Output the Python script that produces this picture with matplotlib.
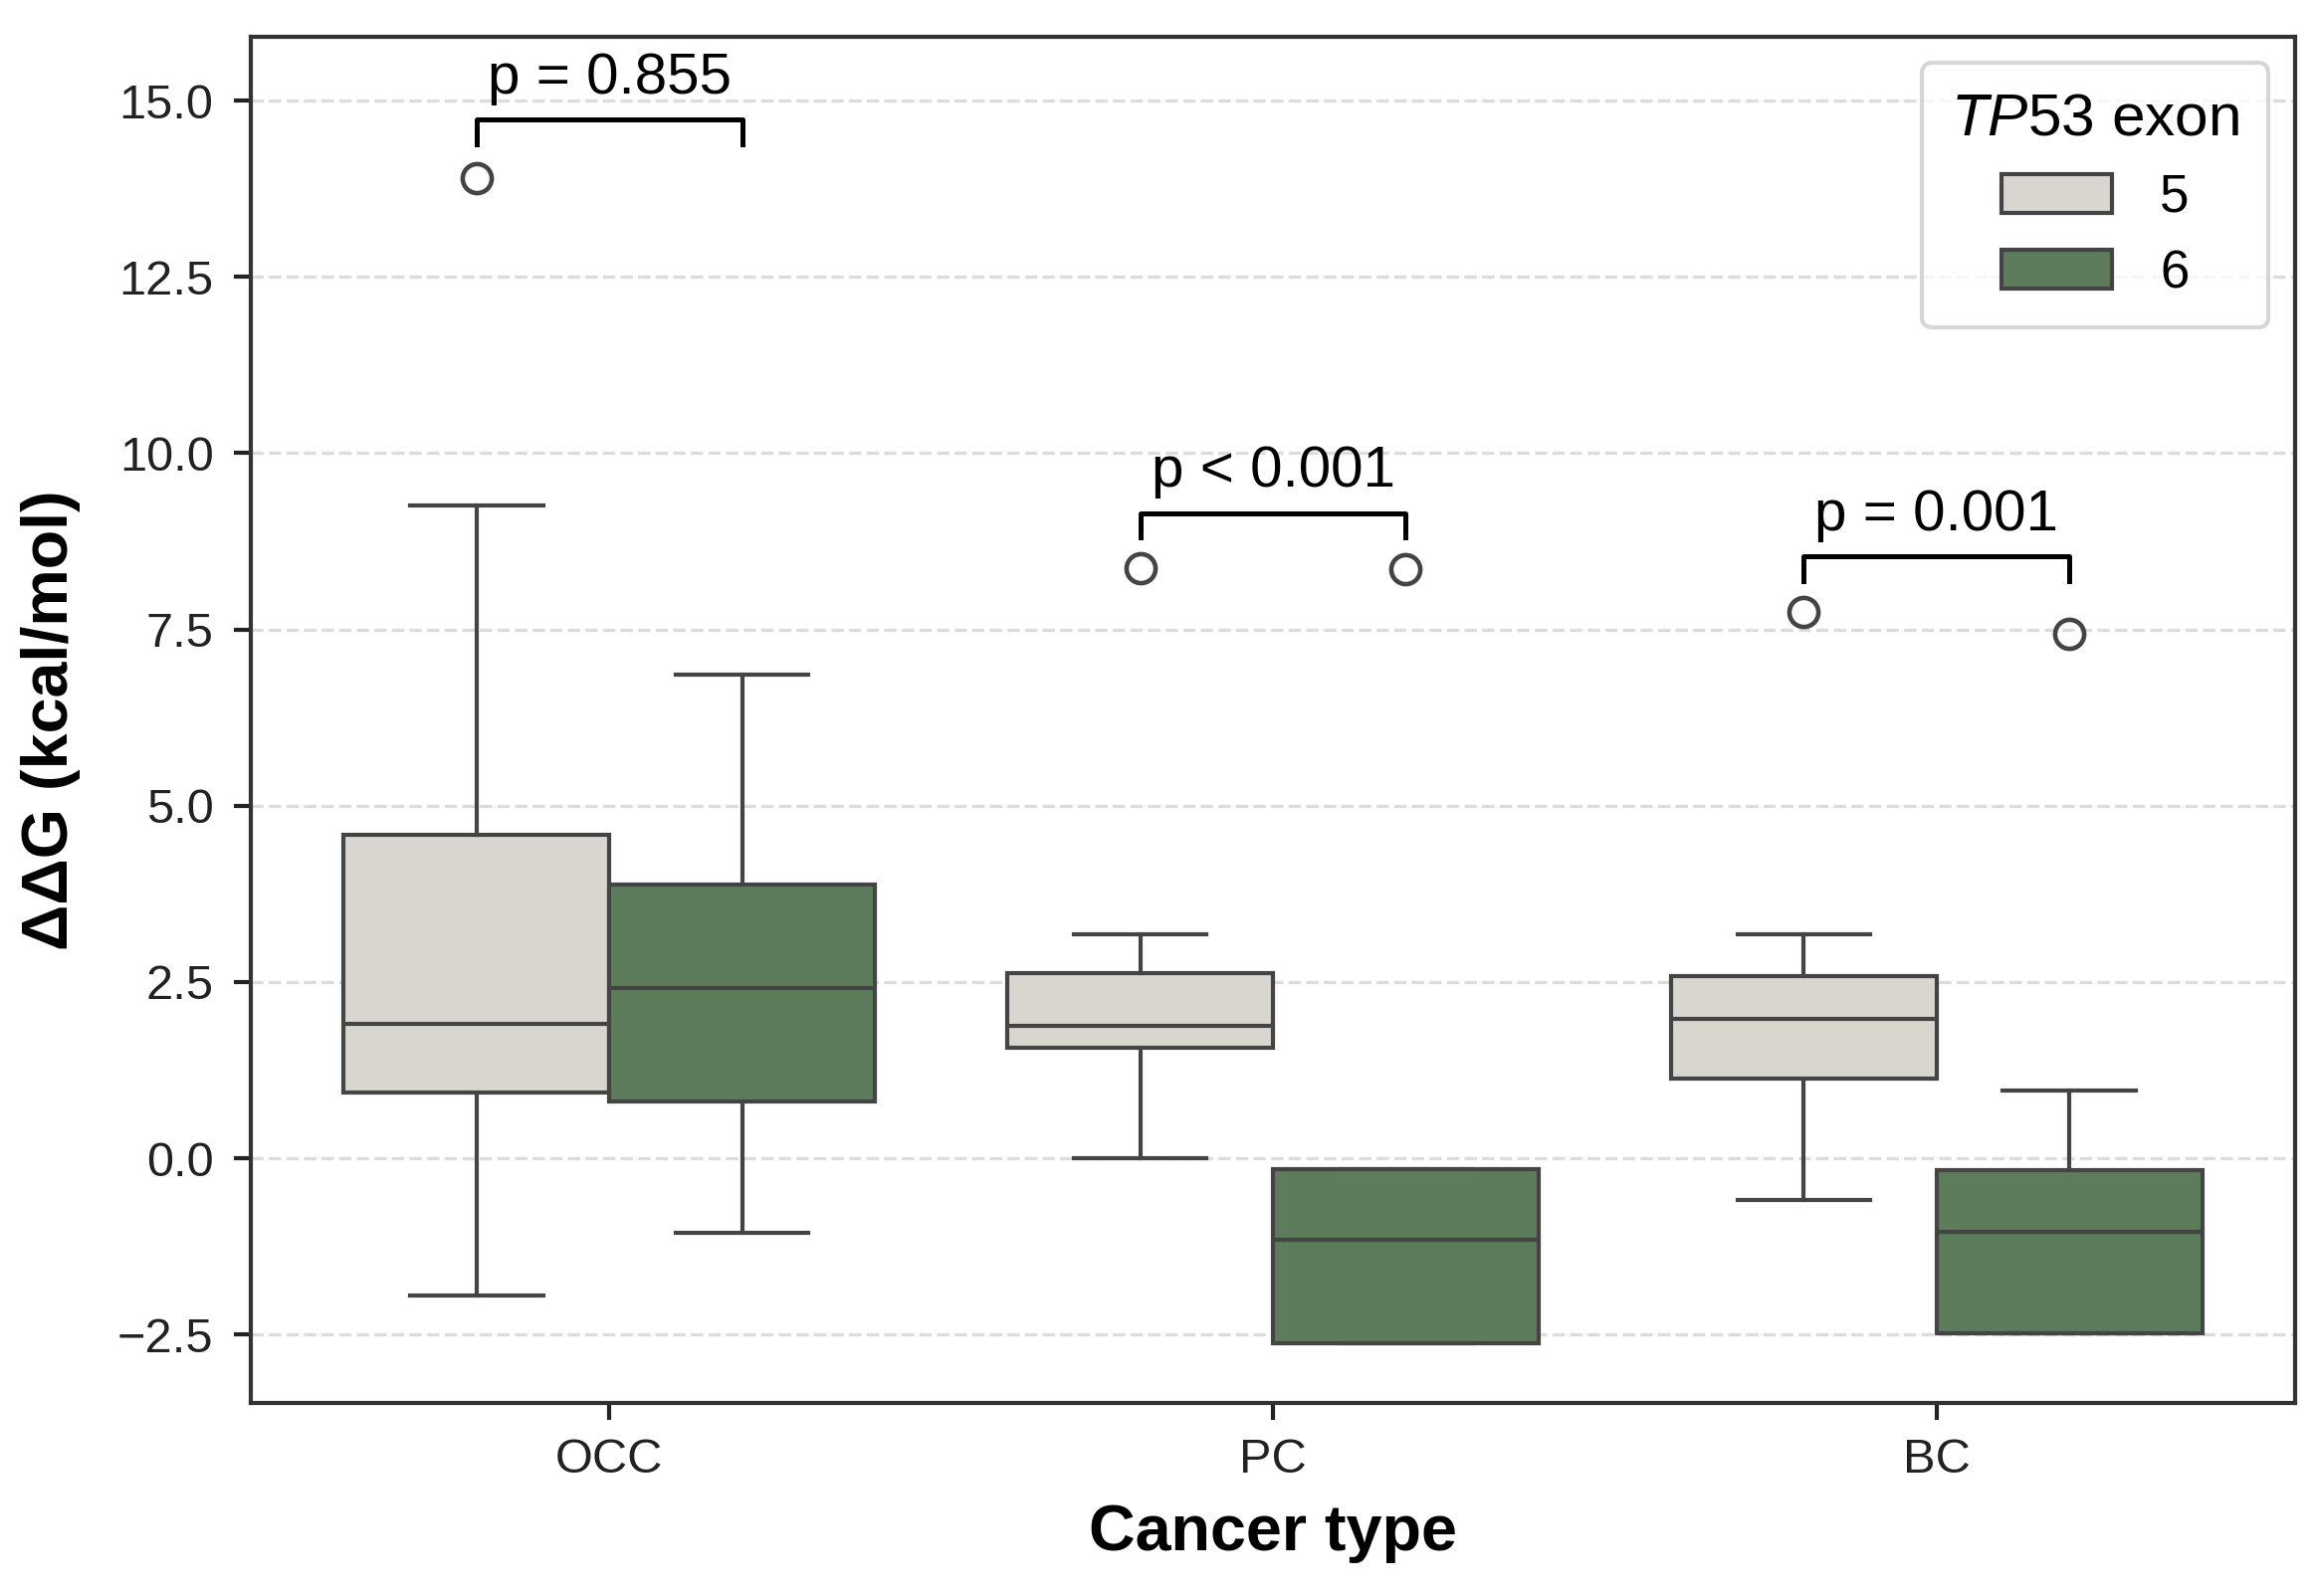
import matplotlib
matplotlib.use('Agg')

import matplotlib.pyplot as plt
from matplotlib.patches import Patch

plt.rcParams['font.family'] = ['Liberation Sans', 'DejaVu Sans']
plt.rcParams['mathtext.fontset'] = 'custom'
plt.rcParams['mathtext.rm'] = 'Liberation Sans'
plt.rcParams['mathtext.it'] = 'Liberation Sans:italic'

# 1) box statistics (kcal/mol)
cancer_types = ['OCC', 'PC', 'BC']
exons = ['5', '6']

ex5_whislo = [-1.95, 0.00, -0.59]
ex5_q1 = [0.93, 1.56, 1.13]
ex5_med = [1.91, 1.88, 1.97]
ex5_q3 = [4.58, 2.63, 2.58]
ex5_whishi = [9.26, 3.17, 3.17]
ex5_fliers = [[13.90], [8.37], [7.75]]

ex6_whislo = [-1.06, -2.63, -2.49]
ex6_q1 = [0.80, -2.63, -2.49]
ex6_med = [2.42, -1.16, -1.05]
ex6_q3 = [3.88, -0.16, -0.17]
ex6_whishi = [6.86, -0.16, 0.96]
ex6_fliers = [[], [8.36], [7.44]]

# p-value brackets
p_labels = ['p = 0.855', 'p < 0.001', 'p = 0.001']
p_bracket_y = [14.73, 9.15, 8.54]

colors = ['#d8d6cf', '#5c7c5b']
edge = '#444444'


def make_stats(whislo, q1, med, q3, whishi, fliers):
    return [dict(whislo=a, q1=b, med=c, q3=d, whishi=e, fliers=f)
            for a, b, c, d, e, f in zip(whislo, q1, med, q3, whishi, fliers)]


stats5 = make_stats(ex5_whislo, ex5_q1, ex5_med, ex5_q3, ex5_whishi, ex5_fliers)
stats6 = make_stats(ex6_whislo, ex6_q1, ex6_med, ex6_q3, ex6_whishi, ex6_fliers)

# 2) figure
fig = plt.figure(figsize=(7.76, 5.3467), dpi=300)
ax = fig.add_axes([0.1083, 0.121, 0.8822, 0.8562])

lw = 1.0
w = 0.4
for k, (st, col) in enumerate(zip([stats5, stats6], colors)):
    pos = [i - 0.2 + k * w for i in range(len(cancer_types))]
    ax.bxp(st, positions=pos, widths=w, capwidths=w / 2, patch_artist=True,
           boxprops=dict(facecolor=col, edgecolor=edge, linewidth=lw),
           medianprops=dict(color=edge, linewidth=lw),
           whiskerprops=dict(color=edge, linewidth=lw),
           capprops=dict(color=edge, linewidth=lw),
           flierprops=dict(marker='o', markersize=7, markerfacecolor='none',
                           markeredgecolor=edge, markeredgewidth=1.1),
           manage_ticks=False, zorder=3)

# brackets
drop = 0.35
for i, (lab, y) in enumerate(zip(p_labels, p_bracket_y)):
    x1, x2 = i - 0.2, i + 0.2
    ax.plot([x1, x1, x2, x2], [y - drop, y, y, y - drop], color='black',
            linewidth=1.2, zorder=4)
    ax.text(i, y + 0.37, lab, ha='center', va='baseline', fontsize=14)

ax.set_xlim(-0.54, 2.54)
ax.set_ylim(-3.47, 15.91)
ax.set_xticks(range(len(cancer_types)))
ax.set_xticklabels(cancer_types)
ax.set_yticks([-2.5, 0, 2.5, 5, 7.5, 10, 12.5, 15])
ax.set_yticklabels(['\u22122.5', '0.0', '2.5', '5.0', '7.5', '10.0', '12.5', '15.0'])
ax.tick_params(axis='both', labelsize=11.7, length=4, width=1.0,
               colors='#222222', pad=5)
ax.tick_params(axis='x', pad=4.5)

ax.yaxis.grid(True, linestyle='--', color='#dcdcdc', linewidth=0.8, zorder=0)
ax.set_axisbelow(True)
for s in ax.spines.values():
    s.set_linewidth(1.0)
    s.set_color('#333333')

ax.set_xlabel('Cancer type', fontsize=15.5, fontweight='bold', labelpad=5)
ax.set_ylabel('\u0394\u0394G (kcal/mol)', fontsize=15.5, fontweight='bold', labelpad=9)

handles = [Patch(facecolor=c, edgecolor=edge, linewidth=lw) for c in colors]
leg = ax.legend(handles, exons, title=r'$\it{TP}$53 exon', loc='upper right',
                fontsize=12.7, title_fontsize=14.5, labelspacing=0.5,
                handletextpad=0.9, borderpad=0.55, handlelength=2.1,
                handleheight=0.75)
leg.get_frame().set_edgecolor('#cccccc')

fig.savefig('out.png', dpi=300)
